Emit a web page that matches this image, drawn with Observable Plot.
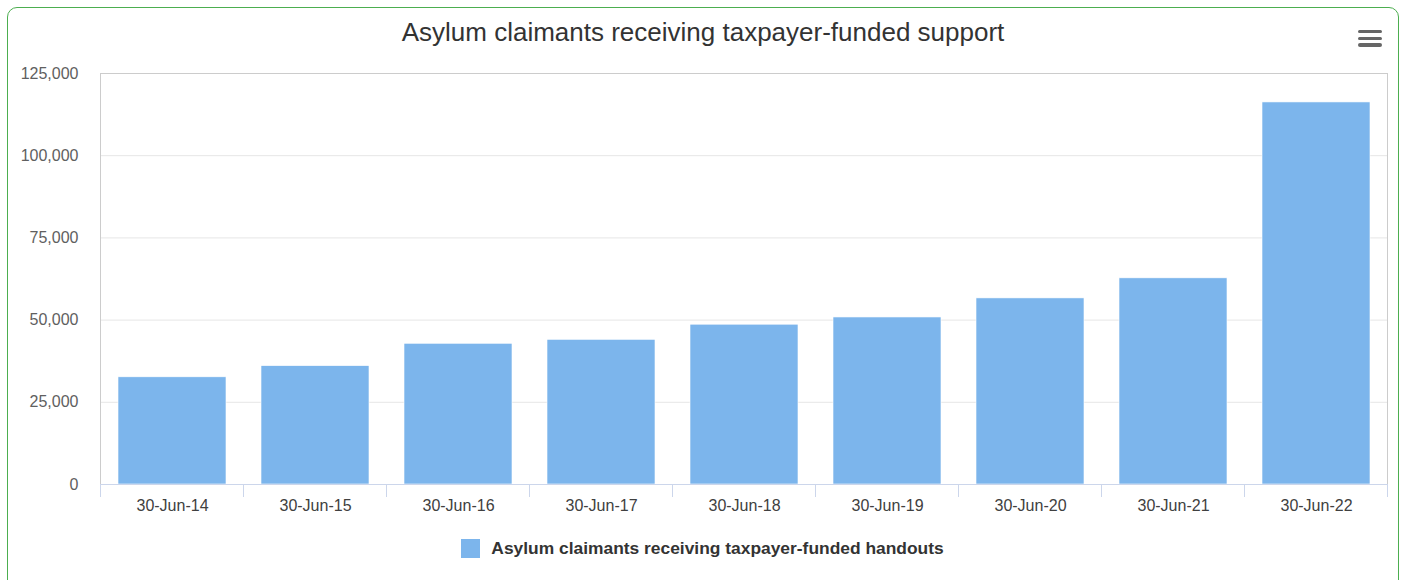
<!DOCTYPE html>
<html>
<head>
<meta charset="utf-8">
<script src="https://cdn.jsdelivr.net/npm/d3@7"></script>
<script src="https://cdn.jsdelivr.net/npm/@observablehq/plot@0.6"></script>
<style>
  html, body { margin: 0; padding: 0; background: #fff; }
  body { width: 1402px; height: 580px; overflow: hidden; position: relative; font-family: "Liberation Sans", Arial, sans-serif; }
  #box { position: absolute; left: 7px; top: 7px; width: 1392px; height: 600px; border: 1.5px solid #4cae4f; border-radius: 10px; box-sizing: border-box; }
  #title { position: absolute; left: 0; width: 1406px; top: 17px; text-align: center; font-size: 26px; color: #333; white-space: nowrap; }
  .burger { position: absolute; left: 1358px; width: 24px; height: 3.5px; border-radius: 2px; background: #666; }
  #chart { position: absolute; left: 0; top: 60px; }
  #legend { position: absolute; top: 538px; left: 0; width: 1405px; display: flex; justify-content: center; align-items: center; font-size: 17.4px; font-weight: bold; color: #333; white-space: nowrap; }
  #legend .sw { width: 19px; height: 19px; background: #7cb5ec; margin-right: 11px; }
</style>
</head>
<body>
<div id="box"></div>
<div id="title">Asylum claimants receiving taxpayer-funded support</div>
<div class="burger" style="top:29.5px"></div>
<div class="burger" style="top:36.5px"></div>
<div class="burger" style="top:43px"></div>
<div id="chart"></div>
<div id="legend"><div class="sw"></div><span id="legendText"></span></div>
<script>
const categories = ["30-Jun-14", "30-Jun-15", "30-Jun-16", "30-Jun-17", "30-Jun-18", "30-Jun-19", "30-Jun-20", "30-Jun-21", "30-Jun-22"];
const values = [32600, 36000, 42800, 44000, 48600, 50800, 56600, 62700, 116200];
const yTicks = [0, 25000, 50000, 75000, 100000, 125000];
const seriesName = "Asylum claimants receiving taxpayer-funded handouts";

document.getElementById("legendText").textContent = seriesName;

const data = categories.map((c, i) => ({cat: c, value: values[i]}));

// category boundary ticks computed from the band scale
const boundaryTicks = Plot.ruleY([0], {
  render: (index, scales, values, dims) => {
    const x = scales.x;
    const bw = typeof x.bandwidth === "function" ? x.bandwidth() : scales.scales.x.bandwidth;
    const step = typeof x.step === "function" ? x.step() : scales.scales.x.step;
    const gap = (step - bw) / 2;
    const xs = categories.map(c => x(c) - gap);
    xs.push(x(categories[categories.length - 1]) + bw + gap);
    const y0 = dims.height - dims.marginBottom;
    const g = d3.create("svg:g");
    g.selectAll("line").data(xs).join("line")
      .attr("x1", d => d).attr("x2", d => d)
      .attr("y1", y0).attr("y2", y0 + 13)
      .attr("stroke", "#ccd6eb");
    return g.node();
  }
});

const chart = Plot.plot({
  width: 1402,
  height: 460,
  marginTop: 13,
  marginBottom: 36,
  marginLeft: 100,
  marginRight: 15,
  style: { fontFamily: "'Liberation Sans', Arial, sans-serif", background: "transparent", overflow: "visible" },
  x: { domain: categories, paddingInner: 0.245, paddingOuter: 0.1225, label: null },
  y: { domain: [0, 125000], label: null },
  marks: [
    Plot.gridY(yTicks, { stroke: "#e6e6e6", strokeOpacity: 1 }),
    Plot.frame({ stroke: "#cccccc" }),
    Plot.barY(data, { x: "cat", y: "value", fill: "#7cb5ec", stroke: "#ffffff", strokeWidth: 0.6 }),
    Plot.ruleY([0], { stroke: "#ccd6eb" }),
    boundaryTicks,
    Plot.axisY(yTicks, { tickSize: 0, tickPadding: 22, tickFormat: d3.format(","), fill: "#606060", fontSize: 16 }),
    Plot.axisX({ tickSize: 0, tickPadding: 15, fill: "#404040", fontSize: 16 })
  ]
});
document.getElementById("chart").appendChild(chart);
</script>
</body>
</html>
